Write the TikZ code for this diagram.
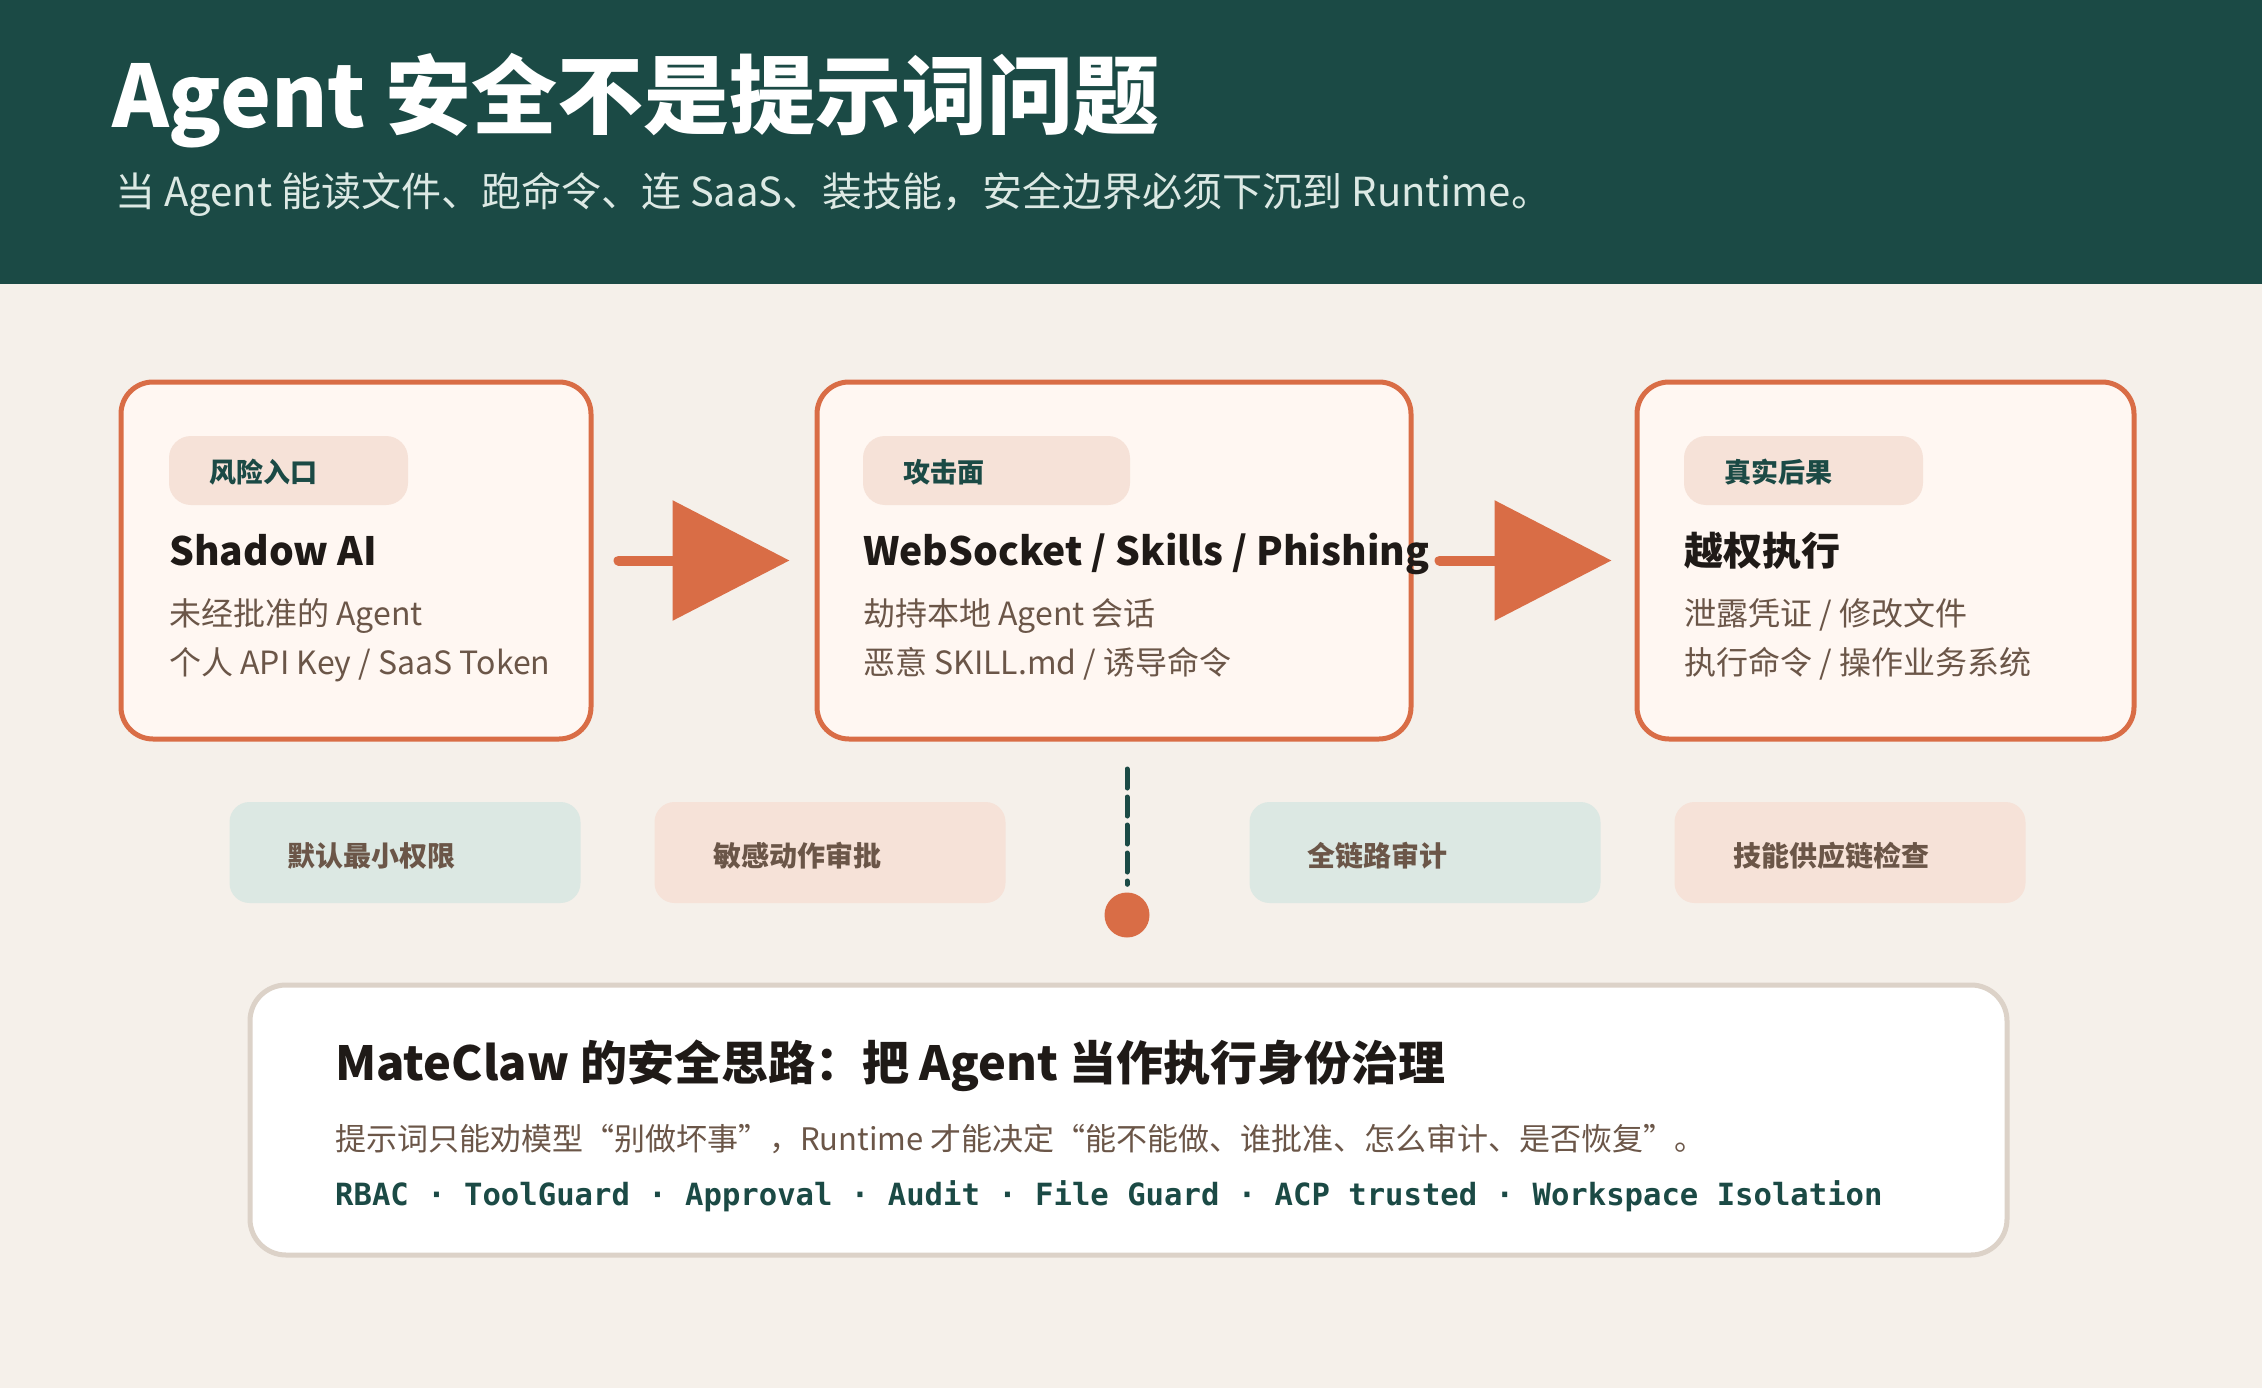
\documentclass[tikz,border=0pt]{standalone}
\usepackage{fontspec}
\setmainfont{Noto Sans CJK SC}
\setmonofont{DejaVu Sans Mono}
\usetikzlibrary{arrows.meta}
\definecolor{hdr}{HTML}{1B4A45}
\definecolor{bgc}{HTML}{F5F0EA}
\definecolor{org}{HTML}{D96D46}
\definecolor{cardfill}{HTML}{FFF7F2}
\definecolor{tagfill}{HTML}{F6E2D8}
\definecolor{grnfill}{HTML}{DCE8E3}
\definecolor{brown}{HTML}{6B5648}
\definecolor{ink}{HTML}{1F1A17}
\definecolor{subc}{HTML}{DCE9E4}
\definecolor{bord}{HTML}{DCD2C8}
\begin{document}
\begin{tikzpicture}[x=1pt,y=-1pt,
  txt/.style={anchor=base west, inner sep=0pt},
  card/.style={draw=org, line width=5pt, fill=cardfill, rounded corners=32pt, inner sep=0pt},
  tagbox/.style={fill=tagfill, rounded corners=22pt, inner sep=0pt, minimum height=69pt},
  tagtxt/.style={txt, text=hdr, font=\fontsize{27}{30}\selectfont\bfseries},
  ctitle/.style={txt, text=ink, font=\fontsize{39}{44}\selectfont\bfseries},
  cline/.style={txt, text=brown, font=\fontsize{32}{36}\selectfont},
  pill/.style={rounded corners=20pt, inner sep=0pt, minimum width=351pt, minimum height=101pt},
  pilltxt/.style={txt, text=brown, font=\fontsize{28}{32}\selectfont\bfseries},
  flow/.style={draw=org, line width=10pt, line cap=round, -{Triangle[length=117pt, width=118pt]}, fill=org}
]
\useasboundingbox (0,0) rectangle (2262,1388);
\fill[bgc] (0,0) rectangle (2262,1388);
\fill[hdr] (0,0) rectangle (2262,284);

\node[txt, text=white, font=\fontsize{86}{98}\selectfont\bfseries] (title) at (112,128) {Agent 安全不是提示词问题};
\node[txt, text=subc, font=\fontsize{40}{46}\selectfont] (subtitle) at (115,207) {当 Agent 能读文件、跑命令、连 SaaS、装技能，安全边界必须下沉到 Runtime。};

% cards
\node[card, minimum width=470pt, minimum height=357pt] (c1) at (356,560.5) {};
\node[card, minimum width=594pt, minimum height=357pt] (c2) at (1114,560.5) {};
\node[card, minimum width=497pt, minimum height=357pt] (c3) at (1885.5,560.5) {};

\node[tagbox, minimum width=239pt] (t1) at (288.5,470.5) {};
\node[tagbox, minimum width=267pt] (t2) at (996.5,470.5) {};
\node[tagbox, minimum width=239pt] (t3) at (1803.5,470.5) {};
\node[tagtxt] (t1txt) at (209,482) {风险入口};
\node[tagtxt] (t2txt) at (903,482) {攻击面};
\node[tagtxt] (t3txt) at (1724,482) {真实后果};

\node[ctitle] (h1) at (169,565) {Shadow AI};
\node[ctitle] (h2) at (863,565) {WebSocket / Skills / Phishing};
\node[ctitle] (h3) at (1684,565) {越权执行};

\node[cline] (a1) at (169,625) {未经批准的 Agent};
\node[cline] (b1) at (169,674) {个人 API Key / SaaS Token};
\node[cline] (a2) at (863,625) {劫持本地 Agent 会话};
\node[cline] (b2) at (863,674) {恶意 SKILL.md / 诱导命令};
\node[cline] (a3) at (1684,625) {泄露凭证 / 修改文件};
\node[cline] (b3) at (1684,674) {执行命令 / 操作业务系统};

\draw[flow] ([xshift=25pt]c1.east) -- ([xshift=-25pt]c2.west);
\draw[flow] ([xshift=26pt]c2.east) -- ([xshift=-23pt]c3.west);

% pills
\node[pill, fill=grnfill] (p1) at (405,852.5) {};
\node[pill, fill=tagfill] (p2) at (830,852.5) {};
\node[pill, fill=grnfill] (p3) at (1425,852.5) {};
\node[pill, fill=tagfill] (p4) at (1850,852.5) {};
\node[pilltxt] (p1t) at (287,866) {默认最小权限};
\node[pilltxt] (p2t) at (713,866) {敏感动作审批};
\node[pilltxt] (p3t) at (1307,866) {全链路审计};
\node[pilltxt] (p4t) at (1733,866) {技能供应链检查};

\coordinate (dtop) at (1127,769);
\node[circle, fill=org, minimum size=45pt, inner sep=0pt] (dot) at (1127,915) {};
\draw[hdr, line width=5pt, dash pattern=on 19pt off 9pt, line cap=round] (dtop) -- ([yshift=8pt]dot.north);

% bottom box
\node[draw=bord, line width=5pt, fill=white, rounded corners=36pt, minimum width=1757pt, minimum height=270pt, inner sep=0pt] (bottom) at (1128.5,1120) {};
\node[txt, text=ink, font=\fontsize{47}{54}\selectfont\bfseries] (btitle) at (335,1080) {MateClaw 的安全思路：把 Agent 当作执行身份治理};
\node[txt, text=brown, font=\fontsize{31}{36}\selectfont] (bline) at (335,1150) {提示词只能劝模型“别做坏事”，Runtime 才能决定“能不能做、谁批准、怎么审计、是否恢复”。};
\node[txt, text=hdr, font=\fontsize{30.6}{36}\selectfont\ttfamily\bfseries] (bmono) at (335,1205) {RBAC · ToolGuard · Approval · Audit · File Guard · ACP trusted · Workspace Isolation};
\end{tikzpicture}
\end{document}
